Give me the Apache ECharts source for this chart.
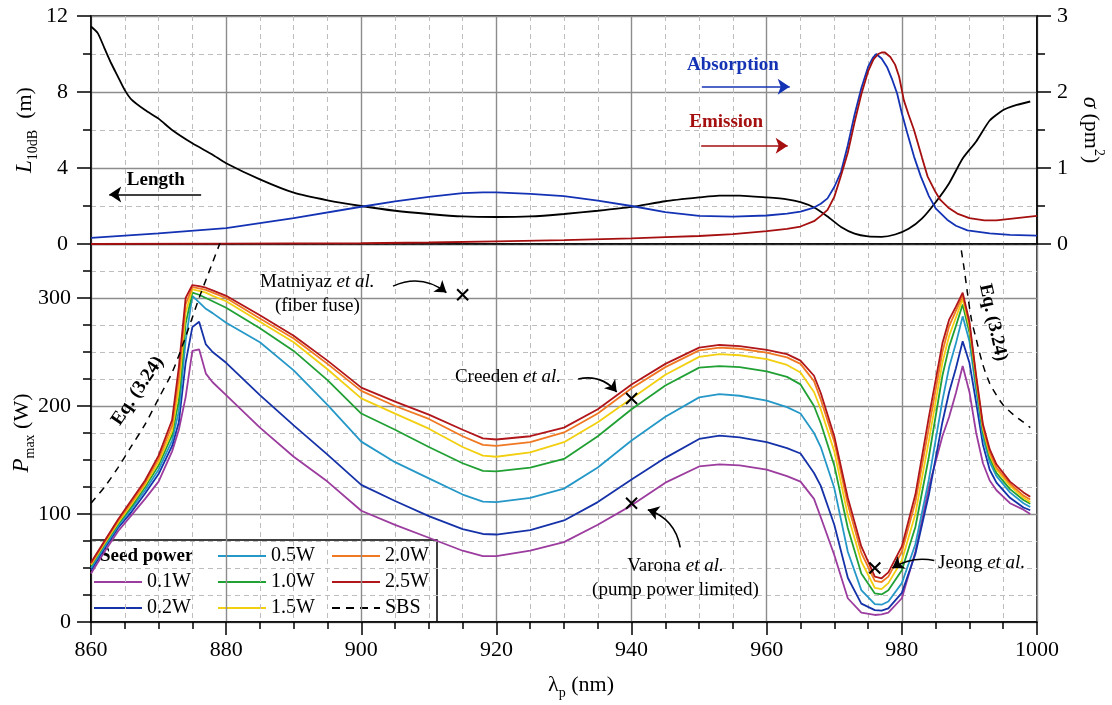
<!DOCTYPE html>
<html>
<head>
<meta charset="utf-8">
<script src="https://cdn.jsdelivr.net/npm/echarts@6.0.0/dist/echarts.min.js"></script>
<style>
  html, body { margin: 0; padding: 0; background: #fff; }
  #chart { width: 1112px; height: 705px; }
</style>
</head>
<body>
<div id="chart"></div>
<script>
// ---------- data ----------
// pump wavelength grid of the seed-power sweeps (nm)
const WL = [860, 862, 864, 866, 868, 870, 872, 873, 874, 875,
            876, 877, 878, 880, 885, 890, 895, 900, 905, 910,
            915, 918, 920, 925, 930, 935, 940, 945, 950, 953,
            956, 960, 963, 965, 967, 968, 970, 972, 974, 976,
            977, 978, 980, 982, 984, 986, 987, 988, 989, 990,
            991, 992, 993, 994, 996, 998, 999];

// maximum output power (W) for each seed power
const P_01 = [45, 65, 84, 99, 114, 130, 158, 178, 208, 251,
              252.5, 230, 222, 210, 180, 153, 130, 103, 90, 78,
              66, 61, 61, 66, 74, 90, 108, 129, 144, 146,
              145, 141, 135, 130, 114, 97, 62, 22, 8.6, 6.5,
              7, 8.6, 22, 65, 125, 172, 190, 212, 237, 213,
              175, 147, 131, 122, 110, 104, 100];
const P_02 = [48, 68, 87, 102, 119, 137, 163, 185, 240, 273,
              278, 257, 250, 240, 210, 182, 155, 127, 112, 98,
              86, 81.5, 81, 85, 94, 111, 132, 152, 169.5, 172.5,
              171, 166.5, 161, 156, 138, 126, 90, 41, 17, 11,
              10.5, 12.6, 27, 63, 118, 185, 213, 235, 260, 240,
              203, 164, 141, 129, 115, 106, 103.5];
const P_05 = [50, 70, 89, 105, 122, 141, 168, 195, 260, 302,
              296, 290, 286, 277, 259, 233, 201, 167, 148, 133,
              118, 111.5, 111, 115, 123.5, 143, 168, 190, 208, 211,
              209.5, 205, 199, 193, 175, 162, 124, 65, 29.5, 16.6,
              16, 19, 36, 72, 132, 205, 236, 258, 283, 260,
              214, 171, 148, 135, 120, 110, 106.5];
const P_10 = [52, 72, 90.5, 107, 125, 145, 173, 205, 276, 305,
              303, 300, 297, 291, 272, 251, 224, 193, 178, 162,
              147, 140, 139.5, 143, 151, 172, 197, 219, 235.5, 237,
              236, 232, 227, 220, 200, 184, 145, 87, 45, 26.5,
              25.5, 29.5, 48, 88, 153, 228, 255, 274, 294, 268,
              220, 176, 152, 138, 123, 113, 109.5];
const P_15 = [53, 73, 92, 109, 127, 148, 177, 216, 286, 308,
              306.5, 305, 302, 297, 278, 259, 234, 207, 193, 179,
              162, 154, 153, 157, 166.5, 185, 207, 229, 245.5, 248,
              247, 243.5, 238, 231, 213, 197, 158, 99, 56, 31.5,
              30.5, 36, 57, 100, 168, 240, 265, 282, 299, 273,
              224, 179, 155, 141, 126, 115, 111];
const P_20 = [54, 74, 93.5, 111, 129, 151, 182, 226, 294, 310,
              309, 307.5, 305, 300, 281, 262.5, 239, 214, 200, 188,
              172, 164, 163, 166.5, 175.5, 193, 216.5, 236, 251.5, 254,
              253, 249.5, 245, 239, 223, 206, 167, 109, 64, 38,
              37, 42, 65, 111, 180, 250, 274, 288, 302, 276,
              226, 181, 157, 143, 128, 117, 113.5];
const P_25 = [55, 75, 95, 113, 131, 154, 187, 236, 300, 312,
              311, 309.5, 307, 302, 284, 265, 242, 217, 204, 192,
              178, 170, 169, 172, 180, 197, 220, 239, 254, 256.5,
              255.5, 252, 248, 242, 228, 212, 172, 115, 70, 42,
              40.5, 46, 70, 118, 190, 258, 280, 292, 305, 278,
              228, 183, 160, 146, 130, 120, 116];

const SEED_LABELS = ['0.1W', '0.2W', '0.5W', '1.0W', '1.5W', '2.0W', '2.5W'];
const SEED_COLORS = ['#9b3c9e', '#1532a8', '#2598c8', '#21a034', '#f2cf10', '#f07822', '#b0161a'];
const SEED_CURVES = [P_01, P_02, P_05, P_10, P_15, P_20, P_25];

// SBS threshold, Eq. (3.24), both branches (W)
const SBS_LEFT_WL  = [860, 862, 864, 866, 868, 870, 872, 874, 876, 878, 879.4];
const SBS_LEFT_P   = [110, 125, 143, 163, 183, 207, 231, 264, 300, 333, 356];
const SBS_RIGHT_WL = [988.5, 989.2, 989.7, 990.3, 991, 992, 993, 994, 995, 996.5, 998, 999];
const SBS_RIGHT_P  = [356, 328, 305, 280, 262, 238, 221, 210, 201, 192, 185, 180];

// 10 dB absorption length (m)
const LEN_WL = [860, 861, 862, 863, 864, 865, 866, 868, 870, 872, 875, 878, 880, 885, 890, 895,
                900, 905, 910, 915, 920, 925, 930, 935, 940, 945, 950, 953, 956, 960, 963, 965,
                967, 969, 971, 973, 975, 977, 979, 981, 983, 985, 987, 989, 991, 993, 995, 997, 999];
const LEN_M  = [11.45, 11.1, 10.3, 9.5, 8.8, 8.1, 7.6, 7.05, 6.6, 6.0, 5.3, 4.7, 4.25, 3.4, 2.7, 2.3,
                2.0, 1.75, 1.58, 1.45, 1.42, 1.45, 1.58, 1.75, 1.95, 2.25, 2.45, 2.55, 2.55, 2.45, 2.35, 2.2,
                1.92, 1.45, 0.9, 0.55, 0.4, 0.38, 0.5, 0.8, 1.35, 2.2, 3.2, 4.5, 5.4, 6.5, 7.05, 7.32, 7.5];

// absorption cross section (pm^2)
const ABS_WL  = [860, 870, 880, 890, 900, 905, 910, 915, 918, 920, 925, 930, 935, 940, 945, 950, 955,
                 960, 963, 965, 967, 968, 969, 970, 971, 972, 973, 974, 975, 975.7, 976.2, 977, 977.8,
                 978.5, 979.3, 980, 980.8, 981.8, 982.8, 984, 985, 986.7, 988, 989.7, 993, 996, 1000];
const ABS_PM2 = [0.08, 0.14, 0.21, 0.34, 0.49, 0.56, 0.62, 0.67, 0.68, 0.68, 0.66, 0.63, 0.57, 0.5, 0.42, 0.37, 0.36,
                 0.375, 0.4, 0.425, 0.48, 0.53, 0.6, 0.75, 0.95, 1.3, 1.7, 2.05, 2.33, 2.45, 2.5, 2.44, 2.33,
                 2.18, 1.98, 1.72, 1.46, 1.15, 0.89, 0.63, 0.47, 0.32, 0.24, 0.18, 0.14, 0.12, 0.11];

// emission cross section (pm^2)
const EMI_WL  = [860, 880, 900, 910, 920, 930, 940, 945, 950, 955, 960, 963, 965, 967, 968, 969, 970,
                 971, 972, 973, 974, 975, 975.8, 976.5, 977, 977.5, 978.3, 979, 979.6, 980.3, 981, 981.8,
                 983, 983.8, 985, 985.7, 987, 988.2, 990, 992.2, 994, 996, 1000];
const EMI_PM2 = [0, 0.005, 0.01, 0.02, 0.035, 0.05, 0.075, 0.09, 0.105, 0.13, 0.17, 0.2, 0.23, 0.3, 0.37, 0.45, 0.62,
                 0.9, 1.2, 1.6, 1.97, 2.27, 2.43, 2.5, 2.52, 2.52, 2.46, 2.36, 2.2, 1.89, 1.7, 1.5,
                 1.13, 0.89, 0.68, 0.58, 0.47, 0.4, 0.34, 0.31, 0.31, 0.33, 0.37];

// reported operating points from the literature [wavelength (nm), power (W)]
const REPORTED = [[915, 303], [940, 207], [940, 110], [976, 50]];

// ---------- styling ----------
const SERIF = '"Liberation Serif", "Times New Roman", serif';
const BLACK = '#000';
const ABS_COLOR = '#1432b4';
const EMI_COLOR = '#a50f0f';
const MAJOR_GRID = { color: '#8c8c8c', width: 1.4 };
const MINOR_GRID = { color: '#bdbdbd', width: 1, type: [5, 4] };
const TICK = { color: BLACK, width: 1.5 };
const plain = (v) => String(v);

const pairs = (xs, ys) => xs.map((x, i) => [x, ys[i]]);

const nameRich = {
  r: { fontFamily: SERIF, fontSize: 22, color: BLACK, lineHeight: 30, verticalAlign: 'middle' },
  i: { fontFamily: SERIF, fontSize: 23, fontStyle: 'italic', color: BLACK, lineHeight: 30, verticalAlign: 'middle' },
  s: { fontFamily: SERIF, fontSize: 14, color: BLACK, lineHeight: 14, verticalAlign: 'bottom' },
  u: { fontFamily: SERIF, fontSize: 14, color: BLACK, lineHeight: 14, verticalAlign: 'top' }
};
const noteRich = {
  r: { fontFamily: SERIF, fontSize: 19, color: BLACK, lineHeight: 24 },
  it: { fontFamily: SERIF, fontSize: 19, fontStyle: 'italic', color: BLACK, lineHeight: 24 }
};

const xBase = {
  type: 'value', min: 860, max: 1000, interval: 20,
  axisLine: { show: true, onZero: false, lineStyle: { color: BLACK, width: 1.5 } },
  splitLine: { show: true, lineStyle: MAJOR_GRID },
  minorSplitLine: { show: true, lineStyle: MINOR_GRID }
};

const gridBase = { left: 91, width: 946, containLabel: false, outerBoundsMode: 'none',
  show: true, borderColor: BLACK, borderWidth: 1.5 };

const option = {
  backgroundColor: '#fff',
  animation: false,
  grid: [
    Object.assign({}, gridBase, { top: 16, height: 228 }),
    Object.assign({}, gridBase, { top: 244, height: 378 })
  ],
  xAxis: [
    Object.assign({}, xBase, {
      gridIndex: 0,
      axisTick: { show: false },
      axisLabel: { show: false },
      minorTick: { show: false, splitNumber: 4 }
    }),
    Object.assign({}, xBase, {
      gridIndex: 1,
      axisTick: { show: true, inside: false, length: 13, lineStyle: TICK },
      minorTick: { show: true, splitNumber: 4, length: 7, lineStyle: TICK },
      axisLabel: { fontFamily: SERIF, fontSize: 22, color: BLACK, margin: 17, formatter: plain },
      name: '{r|λ}{s|p}{r| (nm)}',
      nameLocation: 'middle',
      nameGap: 48,
      nameTextStyle: { rich: nameRich, padding: [0, 0, 0, 34] }
    })
  ],
  yAxis: [
    { // top, left: absorption length
      gridIndex: 0, type: 'value', position: 'left', min: 0, max: 12, interval: 4,
      axisLine: { show: true, onZero: false, lineStyle: { color: BLACK, width: 1.5 } },
      axisTick: { show: true, inside: false, length: 14, lineStyle: TICK },
      minorTick: { show: true, splitNumber: 2, length: 8, lineStyle: TICK },
      axisLabel: { fontFamily: SERIF, fontSize: 22, color: BLACK, margin: 23, formatter: plain },
      splitLine: { show: true, lineStyle: MAJOR_GRID },
      minorSplitLine: { show: true, lineStyle: MINOR_GRID },
      name: '{i|L}{s|10dB}{r|  (m)}', nameLocation: 'middle', nameRotate: 90, nameGap: 51,
      nameMoveOverlap: false,
      nameTextStyle: { rich: nameRich }
    },
    { // top, right: cross sections
      gridIndex: 0, type: 'value', position: 'right', min: 0, max: 3, interval: 1,
      axisLine: { show: true, onZero: false, lineStyle: { color: BLACK, width: 1.5 } },
      axisTick: { show: true, inside: false, length: 14, lineStyle: TICK },
      minorTick: { show: true, splitNumber: 2, length: 8, lineStyle: TICK },
      axisLabel: { fontFamily: SERIF, fontSize: 22, color: BLACK, margin: 20, formatter: plain },
      splitLine: { show: false },
      name: '{i|σ}{r| (pm}{u|2}{r|)}', nameLocation: 'middle', nameRotate: -90, nameGap: 38,
      nameTextStyle: { rich: nameRich }
    },
    { // bottom: maximum power, major ticks and labels
      gridIndex: 1, type: 'value', position: 'left', min: 0, max: 350, interval: 100,
      axisLine: { show: true, onZero: false, lineStyle: { color: BLACK, width: 1.5 } },
      axisTick: { show: true, inside: false, length: 14, lineStyle: TICK },
      axisLabel: { fontFamily: SERIF, fontSize: 22, color: BLACK, margin: 20, showMaxLabel: false, formatter: plain },
      splitLine: { show: true, lineStyle: MAJOR_GRID },
      name: '{i|P}{s|max}{r| (W)}', nameLocation: 'middle', nameRotate: 90, nameGap: 54,
      nameMoveOverlap: false,
      nameTextStyle: { rich: nameRich }
    },
    { // bottom: 25 W minor ticks and dashed grid
      gridIndex: 1, type: 'value', position: 'left', min: 0, max: 350, interval: 25,
      axisLine: { show: false },
      axisTick: { show: true, inside: false, length: 8, lineStyle: TICK },
      axisLabel: { show: false },
      splitLine: { show: true, lineStyle: Object.assign({}, MINOR_GRID,
        { color: ['rgba(0,0,0,0)', '#bdbdbd', '#bdbdbd', '#bdbdbd'] }) }
    }
  ],
  series: []
};

const S = option.series;

// top panel
S.push({ name: 'Length', type: 'line', xAxisIndex: 0, yAxisIndex: 0, data: pairs(LEN_WL, LEN_M),
  showSymbol: false, smooth: 0.2, lineStyle: { color: BLACK, width: 1.8 }, z: 3 });
S.push({ name: 'Absorption', type: 'line', xAxisIndex: 0, yAxisIndex: 1, data: pairs(ABS_WL, ABS_PM2),
  showSymbol: false, lineStyle: { color: ABS_COLOR, width: 1.8 }, z: 3 });
S.push({ name: 'Emission', type: 'line', xAxisIndex: 0, yAxisIndex: 1, data: pairs(EMI_WL, EMI_PM2),
  showSymbol: false, lineStyle: { color: EMI_COLOR, width: 1.8 }, z: 3 });

// bottom panel: power curves
SEED_CURVES.forEach((vals, k) => {
  S.push({ name: SEED_LABELS[k], type: 'line', xAxisIndex: 1, yAxisIndex: 2, data: pairs(WL, vals),
    showSymbol: false, lineStyle: { color: SEED_COLORS[k], width: 1.8 }, z: 3 });
});
[[SBS_LEFT_WL, SBS_LEFT_P], [SBS_RIGHT_WL, SBS_RIGHT_P]].forEach(([xs, ys]) => {
  S.push({ name: 'SBS', type: 'line', xAxisIndex: 1, yAxisIndex: 2, data: pairs(xs, ys), smooth: 0.3,
    showSymbol: false, lineStyle: { color: BLACK, width: 1.5, type: [7, 6] }, z: 3 });
});

// reported points
S.push({ type: 'scatter', xAxisIndex: 1, yAxisIndex: 2, data: REPORTED, z: 5,
  symbol: 'path://M0,0L10,10M10,0L0,10', symbolSize: 11,
  itemStyle: { color: 'rgba(0,0,0,0)', borderColor: BLACK, borderWidth: 2, opacity: 1 } });

// annotation texts (bottom panel)
const note = (x, y, text, extra) => ({
  value: [x, y],
  label: Object.assign({ show: true, position: 'inside', formatter: text, rich: noteRich }, extra || {})
});
S.push({ type: 'scatter', xAxisIndex: 1, yAxisIndex: 2, symbolSize: 1, z: 6,
  itemStyle: { color: 'rgba(0,0,0,0)', opacity: 1 }, silent: true,
  data: [
    note(893.5, 303.5, '{r|Matniyaz }{it|et al.}\n{r|(fiber fuse)}'),
    note(921.7, 226.5, '{r|Creeden }{it|et al.}'),
    note(946.5, 41, '{r|Varona }{it|et al.}\n{r|(pump power limited)}'),
    note(991.8, 54.5, '{r|Jeong }{it|et al.}'),
    note(866.9, 214, 'Eq. (3.24)', { rotate: 56, fontFamily: SERIF, fontSize: 19, fontWeight: 'bold', color: BLACK }),
    note(993.5, 277.3, 'Eq. (3.24)', { rotate: -77.5, fontFamily: SERIF, fontSize: 19, fontWeight: 'bold', color: BLACK })
  ] });

// annotation arrows (bottom panel)
S.push({ type: 'lines', coordinateSystem: 'cartesian2d', xAxisIndex: 1, yAxisIndex: 2, z: 6,
  symbol: ['none', 'arrow'], symbolSize: 11,
  lineStyle: { color: BLACK, width: 1.6, opacity: 1 },
  data: [
    { coords: [[904.7, 311], [912.6, 305]], lineStyle: { curveness: 0.3 } },
    { coords: [[932.1, 225], [937.8, 213]], lineStyle: { curveness: 0.3 } },
    { coords: [[947.2, 69], [942.4, 104]], lineStyle: { curveness: -0.3 } },
    { coords: [[984.8, 57], [978.6, 50]], lineStyle: { curveness: -0.2 } }
  ] });

// top panel labels and arrows
const boldNote = (x, y, text, color) => ({
  value: [x, y],
  label: { show: true, position: 'inside', formatter: text, fontFamily: SERIF, fontSize: 19,
    fontWeight: 'bold', color: color }
});
S.push({ type: 'scatter', xAxisIndex: 0, yAxisIndex: 0, symbolSize: 1, z: 6,
  itemStyle: { color: 'rgba(0,0,0,0)', opacity: 1 }, silent: true,
  data: [
    boldNote(955.0, 9.42, 'Absorption', ABS_COLOR),
    boldNote(954.0, 6.42, 'Emission', EMI_COLOR),
    boldNote(869.6, 3.37, 'Length', BLACK)
  ] });
S.push({ type: 'lines', coordinateSystem: 'cartesian2d', xAxisIndex: 0, yAxisIndex: 0, z: 6,
  symbol: ['none', 'arrow'], symbolSize: 12,
  lineStyle: { width: 1.6, opacity: 1 },
  data: [
    { coords: [[950.4, 8.28], [963.4, 8.28]], lineStyle: { color: ABS_COLOR } },
    { coords: [[950.3, 5.17], [963.1, 5.17]], lineStyle: { color: EMI_COLOR } },
    { coords: [[876.3, 2.61], [862.7, 2.61]], lineStyle: { color: BLACK } }
  ] });

// legend box
const COL_X = [3, 127, 241];
const ROW_Y = [16, 42, 68];
const LEGEND_SLOTS = [[0, 1], [0, 2], [1, 0], [1, 1], [1, 2], [2, 0], [2, 1]];
const legendChildren = [
  { type: 'rect', shape: { x: 0, y: 0, width: 346, height: 82 },
    style: { fill: '#fff', stroke: BLACK, lineWidth: 1.5 } },
  { type: 'text', x: 9, y: ROW_Y[0],
    style: { text: 'Seed power', font: 'bold 19px ' + SERIF, fill: BLACK, verticalAlign: 'middle' } }
];
const legendEntry = (c, r, label, stroke, dash) => {
  legendChildren.push({ type: 'line', shape: { x1: COL_X[c], y1: ROW_Y[r], x2: COL_X[c] + 48, y2: ROW_Y[r] },
    style: { stroke: stroke, lineWidth: 2, lineDash: dash || null } });
  legendChildren.push({ type: 'text', x: COL_X[c] + 53, y: ROW_Y[r],
    style: { text: label, font: '20px ' + SERIF, fill: BLACK, verticalAlign: 'middle' } });
};
SEED_LABELS.forEach((lab, k) => legendEntry(LEGEND_SLOTS[k][0], LEGEND_SLOTS[k][1], lab, SEED_COLORS[k]));
legendEntry(2, 2, 'SBS', BLACK, [8, 6]);

option.graphic = [{ type: 'group', x: 91, y: 540, z: 100, children: legendChildren }];

const chart = echarts.init(document.getElementById('chart'));
chart.setOption(option);
</script>
</body>
</html>
